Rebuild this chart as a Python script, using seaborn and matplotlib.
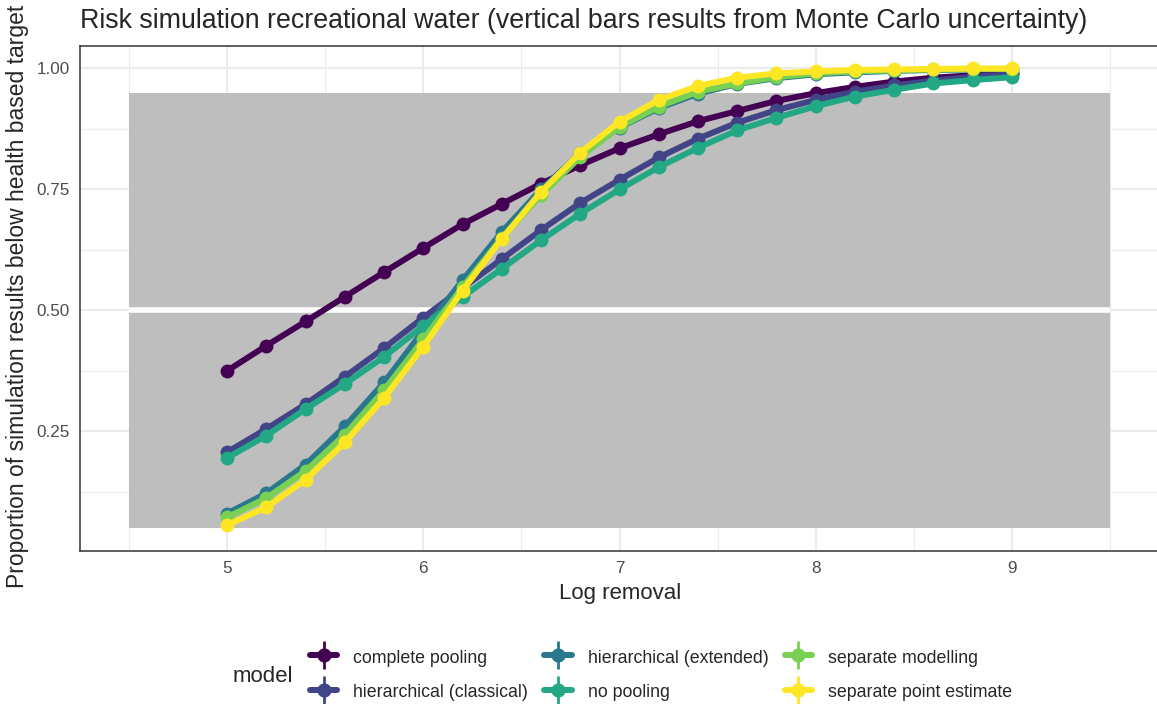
import numpy as np
import pandas as pd
import matplotlib
matplotlib.use("Agg")
import matplotlib.pyplot as plt
from matplotlib.patches import Rectangle
from matplotlib.lines import Line2D
from matplotlib.legend_handler import HandlerTuple
import seaborn as sns

# ---- data -----------------------------------------------------------------
log_removal = [5.0, 5.2, 5.4, 5.6, 5.8, 6.0, 6.2, 6.4, 6.6, 6.8, 7.0,
               7.2, 7.4, 7.6, 7.8, 8.0, 8.2, 8.4, 8.6, 8.8, 9.0]

models = ["complete pooling", "hierarchical (classical)", "hierarchical (extended)",
          "no pooling", "separate modelling", "separate point estimate"]

complete_pooling = [0.375, 0.427, 0.477, 0.528, 0.579, 0.629, 0.678, 0.720, 0.762, 0.800, 0.835,
                    0.864, 0.891, 0.912, 0.933, 0.949, 0.962, 0.973, 0.981, 0.986, 0.990]
hierarchical_classical = [0.207, 0.255, 0.306, 0.363, 0.422, 0.485, 0.546, 0.606, 0.666, 0.722, 0.770,
                          0.816, 0.855, 0.888, 0.914, 0.935, 0.952, 0.965, 0.975, 0.983, 0.988]
hierarchical_extended = [0.080, 0.122, 0.181, 0.260, 0.351, 0.458, 0.562, 0.662, 0.750, 0.825, 0.878,
                         0.918, 0.948, 0.968, 0.980, 0.988, 0.992, 0.995, 0.997, 0.998, 0.999]
no_pooling = [0.195, 0.241, 0.296, 0.348, 0.404, 0.468, 0.528, 0.586, 0.645, 0.700, 0.750,
              0.796, 0.836, 0.872, 0.898, 0.922, 0.942, 0.956, 0.969, 0.976, 0.982]
separate_modelling = [0.072, 0.112, 0.168, 0.243, 0.335, 0.440, 0.548, 0.650, 0.738, 0.817, 0.879,
                      0.921, 0.952, 0.969, 0.982, 0.990, 0.994, 0.996, 0.998, 0.999, 0.999]
separate_point_estimate = [0.056, 0.093, 0.150, 0.227, 0.319, 0.425, 0.541, 0.648, 0.745, 0.826, 0.890,
                           0.935, 0.964, 0.981, 0.990, 0.994, 0.997, 0.998, 0.999, 1.000, 1.000]

series = [complete_pooling, hierarchical_classical, hierarchical_extended,
          no_pooling, separate_modelling, separate_point_estimate]

# shaded target bands
band_xmin = [4.5, 4.5]
band_xmax = [9.5, 9.5]
band_ymin = [0.05, 0.50]
band_ymax = [0.50, 0.95]

x_ticks = [5, 6, 7, 8, 9]
y_ticks = [0.25, 0.50, 0.75, 1.00]
y_tick_labels = ["0.25", "0.50", "0.75", "1.00"]

df = pd.DataFrame({
    "log_removal": np.tile(log_removal, len(models)),
    "proportion": np.concatenate(series),
    "model": np.repeat(models, len(log_removal)),
})

# ---- style ----------------------------------------------------------------
sns.set_style("white")
plt.rcParams["font.family"] = ["Liberation Sans", "DejaVu Sans"]

palette = dict(zip(models, ["#440154", "#414487", "#2A788E", "#22A884", "#7AD151", "#FDE725"]))

W, H = 1157, 704
fig = plt.figure(figsize=(W / 100, H / 100), dpi=100)
ax = fig.add_axes([80 / W, (H - 551) / H, 1079 / W, 505 / H])

ax.set_xlim(4.25, 9.75)
ax.set_ylim(0.0025, 1.0465)

# grid (major + minor)
ax.set_xticks(x_ticks)
ax.set_xticks([4.5, 5.5, 6.5, 7.5, 8.5, 9.5], minor=True)
ax.set_yticks(y_ticks)
ax.set_yticklabels(y_tick_labels)
ax.set_yticks([0.125, 0.375, 0.625, 0.875], minor=True)
ax.grid(which="major", color="#EBEBEB", linewidth=1.5, zorder=0)
ax.grid(which="minor", color="#EBEBEB", linewidth=0.8, zorder=0)
ax.set_axisbelow(True)

# target bands
for x0, x1, y0, y1 in zip(band_xmin, band_xmax, band_ymin, band_ymax):
    ax.add_patch(Rectangle((x0, y0), x1 - x0, y1 - y0, facecolor="#BEBEBE",
                           edgecolor="none", zorder=1))
ax.plot([band_xmin[0], band_xmax[0]], [band_ymax[0], band_ymax[0]],
        color="white", linewidth=4.0, zorder=1.5, solid_capstyle="butt")

# simulation curves
for i, m in enumerate(models):
    sub = df[df["model"] == m]
    sns.lineplot(data=sub, x="log_removal", y="proportion", color=palette[m],
                 linewidth=4.3, ax=ax, legend=False, estimator=None, zorder=3 + 2 * i)
    sns.scatterplot(data=sub, x="log_removal", y="proportion", color=palette[m],
                    s=100, linewidth=0, ax=ax, legend=False, zorder=4 + 2 * i)

# axes cosmetics
for sp in ax.spines.values():
    sp.set_color("#333333")
    sp.set_linewidth(1.1)
ax.tick_params(which="major", length=4.5, width=1.1, color="#333333",
               labelsize=12.3, labelcolor="#4D4D4D", pad=3)
ax.tick_params(which="minor", length=0)
ax.set_xlabel("")
ax.set_ylabel("")

fig.text(620 / W, 1 - 594 / H, "Log removal", ha="center", va="center", fontsize=16)
fig.text(18 / W, 1 - 296 / H, "Proportion of simulation results below health based target",
         ha="center", va="center", rotation=90, fontsize=16.5)
fig.text(80 / W, 1 - 21 / H,
         "Risk simulation recreational water (vertical bars results from Monte Carlo uncertainty)",
         ha="left", va="center", fontsize=19.3)

# legend: line + error bar + point key
handles = []
for m in models:
    c = palette[m]
    handles.append((
        Line2D([0], [0], color=c, linewidth=4.3),
        Line2D([0], [0], color=c, linewidth=0, marker="|", markersize=20, markeredgewidth=2),
        Line2D([0], [0], color=c, linewidth=0, marker="o", markersize=9.2),
    ))
fig.legend(handles, models, handler_map={tuple: HandlerTuple(ndivide=1, pad=0)},
           loc="center left", bbox_to_anchor=(301 / W, 1 - 674.5 / H), ncol=3,
           frameon=False, fontsize=12.8, borderpad=0, handlelength=1.55,
           handleheight=1.2, handletextpad=0.9, columnspacing=0.9, labelspacing=0.85)
fig.text(233 / W, 1 - 676 / H, "model", ha="left", va="center", fontsize=16)

fig.savefig("out.png", dpi=100)
